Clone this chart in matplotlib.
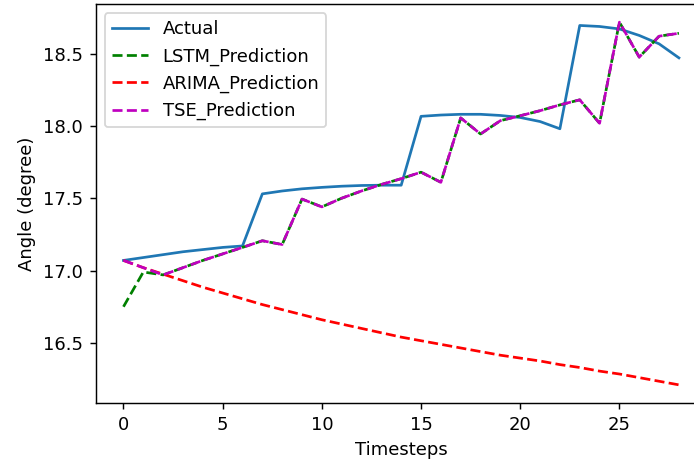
import matplotlib
matplotlib.use("Agg")
import matplotlib.pyplot as plt
import numpy as np

timesteps = np.arange(29)

actual = [17.07, 17.09, 17.11, 17.13, 17.145, 17.16, 17.17,
          17.53, 17.55, 17.565, 17.575, 17.583, 17.588, 17.59, 17.59,
          18.066, 18.075, 18.08, 18.08, 18.072, 18.058, 18.03, 17.98,
          18.694, 18.687, 18.67, 18.625, 18.567, 18.47]

lstm_pred = [16.75, 16.99, 16.97, 17.02, 17.07, 17.115, 17.16,
             17.206, 17.18, 17.494, 17.44, 17.50, 17.55, 17.595, 17.635,
             17.68, 17.61, 18.055, 17.944, 18.036, 18.07, 18.105, 18.145,
             18.18, 18.018, 18.717, 18.475, 18.62, 18.64]

arima_pred = [17.07, 17.02, 16.975, 16.93, 16.885, 16.845, 16.805,
              16.765, 16.73, 16.695, 16.66, 16.63, 16.60, 16.57, 16.54,
              16.515, 16.49, 16.465, 16.44, 16.415, 16.395, 16.375, 16.35,
              16.33, 16.305, 16.285, 16.26, 16.235, 16.21]

tse_pred = [17.07, 17.02] + lstm_pred[2:]

DPI = 130
W, H = 694, 463
fig = plt.figure(figsize=(W / DPI, H / DPI), dpi=DPI)
ax = fig.add_axes([95.7 / W, 60 / H, 611 / W, 399 / H])

ax.plot(timesteps, actual, label="Actual")
ax.plot(timesteps, lstm_pred, "g--", label="LSTM_Prediction")
ax.plot(timesteps, arima_pred, "r--", label="ARIMA_Prediction")
ax.plot(timesteps, tse_pred, "m--", label="TSE_Prediction")

ax.set_xlabel("Timesteps")
ax.set_ylabel("Angle (degree)")
ax.legend(loc="upper left")

fig.savefig("out.png", dpi=DPI)
